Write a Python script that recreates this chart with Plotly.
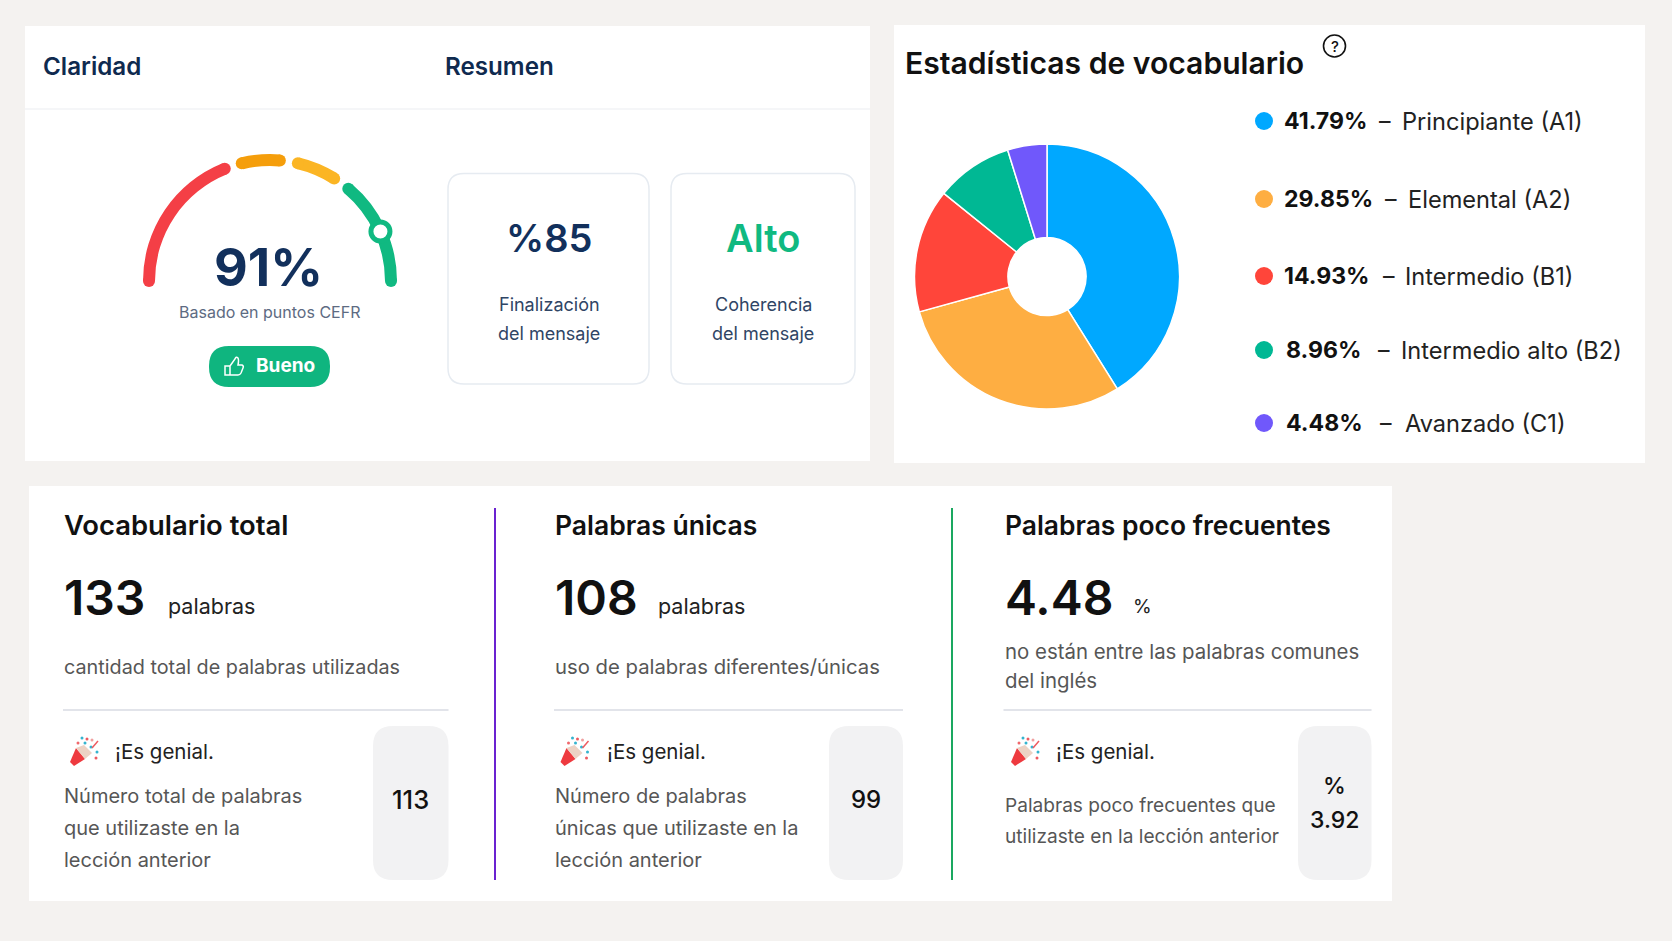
import plotly.graph_objects as go

W, H = 1672, 941
FONT = "Inter"
NAVY = "#12305c"
GREEN = "#10b981"
INK = "#111111"
GREY = "#565656"

# gauge, on a 0-100 scale
gauge_from = [0, 42.5, 57.4, 72.4]
gauge_to = [37.8, 52.6, 67.8, 100]
gauge_colors = ["#f43f46", "#f59e0b", "#fbb524", "#10b981"]
gauge_mark = 86.6
gauge_score = "91%"
summary_values = ["%85", "Alto"]
summary_labels = [["Finalización", "del mensaje"], ["Coherencia", "del mensaje"]]

# pie: printed percentages, and the slice shares as drawn in the picture (they differ a bit)
vocab_pct = [41.79, 29.85, 14.93, 8.96, 4.48]
slice_share = [41.1, 29.6, 15.1, 9.4, 4.8]
vocab_levels = ["Principiante (A1)", "Elemental (A2)", "Intermedio (B1)", "Intermedio alto (B2)", "Avanzado (C1)"]
vocab_colors = ["#00a8ff", "#feae42", "#ff453a", "#00b894", "#7058fb"]

# bottom panel
metric_titles = ["Vocabulario total", "Palabras únicas", "Palabras poco frecuentes"]
metric_values = ["133", "108", "4.48"]
metric_units = ["palabras", "palabras", "%"]
metric_desc = [["cantidad total de palabras utilizadas"], ["uso de palabras diferentes/únicas"],
               ["no están entre las palabras comunes", "del inglés"]]
metric_notes = [["Número total de palabras", "que utilizaste en la", "lección anterior"],
                ["Número de palabras", "únicas que utilizaste en la", "lección anterior"],
                ["Palabras poco frecuentes que", "utilizaste en la lección anterior"]]
metric_prev = [["113"], ["99"], ["%", "3.92"]]
praise = "¡Es genial."

fig = go.Figure()
shapes = []
notes = []


def text(x, y, s, size, color=INK, weight=400, anchor="left"):
    notes.append(dict(x=x, y=y, text=s, xref="x", yref="y", showarrow=False, xanchor=anchor, yanchor="middle",
                      borderpad=0, font=dict(family=FONT, size=size, color=color, weight=weight)))


def roundRect(x0, y0, x1, y1, r, fill, line=None, lw=0, layer="below"):
    p = (f"M {x0+r} {y0} L {x1-r} {y0} Q {x1} {y0} {x1} {y0+r} L {x1} {y1-r} Q {x1} {y1} {x1-r} {y1} "
         f"L {x0+r} {y1} Q {x0} {y1} {x0} {y1-r} L {x0} {y0+r} Q {x0} {y0} {x0+r} {y0} Z")
    shapes.append(dict(type="path", path=p, xref="x", yref="y", fillcolor=fill, layer=layer,
                       line=dict(color=line or fill, width=lw)))


def rule(x0, y0, x1, y1, color, lw):
    shapes.append(dict(type="line", x0=x0, y0=y0, x1=x1, y1=y1, xref="x", yref="y", layer="below",
                       line=dict(color=color, width=lw)))


def poly(points, fill):
    p = "M " + " L ".join(f"{x} {y}" for x, y in points) + " Z"
    shapes.append(dict(type="path", path=p, xref="x", yref="y", fillcolor=fill, line=dict(width=0)))


def dot(x, y, r, fill):
    shapes.append(dict(type="circle", x0=x-r, y0=y-r, x1=x+r, y1=y+r, xref="x", yref="y",
                       fillcolor=fill, line=dict(width=0)))


def popper(cx, cy):  # no colour emoji font here, so the party popper is drawn
    poly([(cx-14, cy+10), (cx-10, cy+14), (cx+1, cy+7), (cx-8, cy-4)], "#ee3a3f")
    poly([(cx-8, cy-4), (cx+1, cy+7), (cx+8, cy+1), (cx, cy-7)], "#ecd2c4")
    for dx, dy, c in [(-2, -14, "#35b4cf"), (-6, -9, "#f0686c"), (3, -13, "#ee5a60"), (1, -9, "#35b4cf"),
                      (13, 0, "#35b4cf"), (12, 6, "#ee5a60"), (8, -12, "#f0a0a0"), (7, -5, "#35b4cf")]:
        dot(cx+dx, cy+dy, 1.5, c)
    rule(cx+8, cy-4, cx+14, cy-11, "#ee5a60", 1.5)
    shapes[-1]["layer"] = "above"


# panels
roundRect(25, 26, 870, 461, 0, "#ffffff")
roundRect(894, 25, 1645, 463, 0, "#ffffff")
roundRect(29, 486, 1392, 901, 0, "#ffffff")
rule(25, 109, 870, 109, "#f5f6f8", 2)

# claridad / resumen
text(42, 66, "Claridad", 24.2, "#0f2a4f", 600)
text(444, 66, "Resumen", 24.2, "#0f2a4f", 600)
text(268.5, 267, gauge_score, 52, NAVY, 700, "center")
text(269, 312, "Basado en puntos CEFR", 16, "#5d6b82", 400, "center")
roundRect(209, 346, 330, 387, 20, "#0fb57f")
text(254.5, 365.5, "Bueno", 19, "#ffffff", 700)
shapes.append(dict(type="path", xref="x", yref="y", line=dict(color="#ffffff", width=1.5),
                   path="M 225 366 L 230 366 L 230 375 L 225 375 Z M 230 366 L 235 359 Q 236 356 238 358 "
                        "Q 239 360 238 365 L 242 365 Q 244 366 243 368 L 241 373 Q 240 375 238 375 L 230 375"))

summary_boxes = [(448, 649), (671, 855)]
summary_colors = [NAVY, GREEN]
summary_mid = [549, 763]
for i, (x0, x1) in enumerate(summary_boxes):
    roundRect(x0, 173.5, x1, 384, 16, "#ffffff", "#e6ebf1", 1.5)
    text(summary_mid[i], 238, summary_values[i], 38, summary_colors[i], 600, "center")
    text(summary_mid[i], 304, summary_labels[i][0], 18, "#2f4565", 400, "center")
    text(summary_mid[i], 333, summary_labels[i][1], 18, "#2f4565", 400, "center")

# gauge bands through a polar subplot, angle runs 180 -> 0 over the 0-100 scale
gauge_mid = [180 - 1.8 * (a + b) / 2 for a, b in zip(gauge_from, gauge_to)]
gauge_width = [1.8 * (b - a) for a, b in zip(gauge_from, gauge_to)]
fig.add_trace(go.Barpolar(theta=gauge_mid, width=gauge_width, r=[12] * 4, base=115, subplot="polar",
                          marker=dict(color=gauge_colors, line=dict(width=0)), hoverinfo="skip", showlegend=False))
for a, b, c in zip(gauge_from, gauge_to, gauge_colors):  # round ends
    fig.add_trace(go.Scatterpolar(theta=[180 - 1.8 * a, 180 - 1.8 * b], r=[121, 121], mode="markers", subplot="polar",
                                  marker=dict(size=12, color=c, line=dict(width=0)), hoverinfo="skip", showlegend=False))
fig.add_trace(go.Scatterpolar(theta=[180 - 1.8 * gauge_mark], r=[121], mode="markers", subplot="polar",
                              marker=dict(size=19, color="#ffffff", line=dict(color=GREEN, width=5)),
                              hoverinfo="skip", showlegend=False))

# pie
pie_x, pie_y, pie_r = 1047, 276.5, 132.5
fig.add_trace(go.Pie(values=slice_share, labels=vocab_levels, sort=False, direction="clockwise", rotation=0, hole=0.295,
                     marker=dict(colors=vocab_colors, line=dict(color="#ffffff", width=1.5)), textinfo="none",
                     domain=dict(x=[(pie_x - pie_r) / W, (pie_x + pie_r) / W],
                                 y=[1 - (pie_y + pie_r) / H, 1 - (pie_y - pie_r) / H]),
                     hoverinfo="skip", showlegend=False))
text(904, 63, "Estadísticas de vocabulario", 30.1, INK, 600)
shapes.append(dict(type="circle", x0=1323.5, y0=35, x1=1345.5, y1=57, xref="x", yref="y", line=dict(color="#111111", width=1.6)))
text(1334.5, 46, "?", 15, INK, 500, "center")

row_y = [121, 199, 276, 350, 423]
pct_x = [1283, 1283, 1283, 1284.5, 1285]
dash_x = [1378, 1384, 1381.5, 1376.5, 1379]
name_x = [1401, 1407, 1404, 1400, 1403.5]
fig.add_trace(go.Scatter(x=[1264] * 5, y=row_y, mode="markers", hoverinfo="skip", showlegend=False,
                         marker=dict(size=18, color=vocab_colors, line=dict(width=0))))
for i, level in enumerate(vocab_levels):
    text(pct_x[i], row_y[i], f"{vocab_pct[i]:.2f}%", 23.1, INK, 700)
    text(dash_x[i], row_y[i], "–", 23, "#222222")
    text(name_x[i], row_y[i], level, 23.6, "#222222")

# bottom row
col_x = [63, 554, 1003.5]
col_end = [448.5, 903, 1371.5]
box_x = [373, 829, 1298]
unit_x = [166.5, 657, 1131.5]
praise_x = [114, 606, 1055]
icon_x = [84, 574.5, 1025]
title_size = [27.4, 26.5, 26.4]
desc_size = [19.8, 20.3, 20.4]
note_size = [20, 20, 19.1]
prev_size = [25.5, 24, 23]
rule(495, 508, 495, 880, "#6a22d0", 2)
rule(952, 508, 952, 880, "#1aa860", 2)
for i in range(3):
    x = col_x[i]
    text(x, 525, metric_titles[i], title_size[i], INK, 600)
    text(x, 597.5, metric_values[i], 48, INK, 600)
    text(unit_x[i], 606, metric_units[i], 21.5 if i < 2 else 19, "#222222")
    if len(metric_desc[i]) == 1:
        text(x, 666.5, metric_desc[i][0], desc_size[i], GREY)
    else:
        text(x, 651, metric_desc[i][0], desc_size[i], GREY)
        text(x, 680, metric_desc[i][1], desc_size[i], GREY)
    rule(x, 710, col_end[i], 710, "#e2e4ea", 2)
    popper(icon_x[i], 752)
    text(praise_x[i], 751, praise, 20.5, "#222222")
    note_y = [795.5, 827.5, 860] if len(metric_notes[i]) == 3 else [804.5, 835.5]
    for yy, line in zip(note_y, metric_notes[i]):
        text(x, yy, line, note_size[i], GREY)
    roundRect(box_x[i], 726, col_end[i], 880, 20, "#f2f2f3")
    box_mid = (box_x[i] + col_end[i]) / 2
    prev_y = [799.5] if len(metric_prev[i]) == 1 else [786, 820]
    for yy, line in zip(prev_y, metric_prev[i]):
        text(box_mid, yy, line, prev_size[i], INK, 500, "center")

fig.update_layout(
    width=W, height=H, margin=dict(l=0, r=0, t=0, b=0), paper_bgcolor="#f4f2f0", plot_bgcolor="rgba(0,0,0,0)",
    xaxis=dict(range=[0, W], visible=False, fixedrange=True, domain=[0, 1]),
    yaxis=dict(range=[H, 0], visible=False, fixedrange=True, domain=[0, 1]),
    polar=dict(domain=dict(x=[(270 - 130) / W, (270 + 130) / W], y=[1 - (281 + 130) / H, 1 - (281 - 130) / H]),
               bgcolor="rgba(0,0,0,0)",
               radialaxis=dict(range=[0, 130], visible=False),
               angularaxis=dict(visible=False, thetaunit="degrees")),
    shapes=shapes, annotations=notes, showlegend=False,
)
fig.write_html("out.html", config=dict(displayModeBar=False), post_script="document.body.style.margin='0';")
